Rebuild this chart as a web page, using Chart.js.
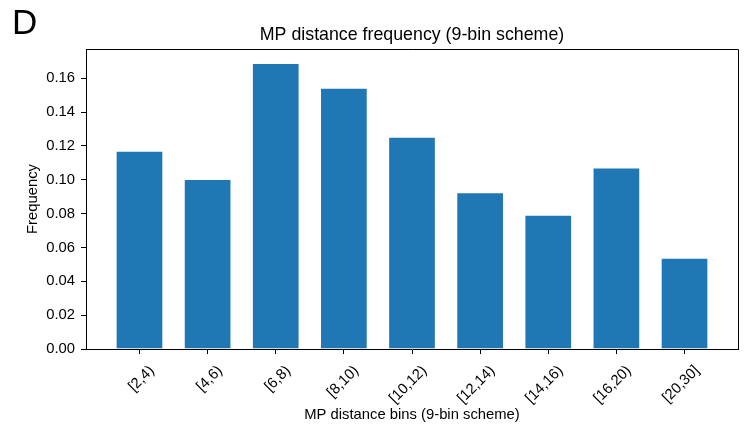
<!DOCTYPE html>
<html>
<head>
<meta charset="utf-8">
<script src="https://cdn.jsdelivr.net/npm/chart.js@4.4.0/dist/chart.umd.min.js"></script>
<style>
  html, body { margin: 0; padding: 0; background: #fff; }
  #wrap { width: 749px; height: 430px; }
</style>
</head>
<body>
<div id="wrap"><canvas id="chart"></canvas></div>
<script>
// dati
var bins = ['[2,4)', '[4,6)', '[6,8)', '[8,10)', '[10,12)', '[12,14)', '[14,16)', '[16,20)', '[20,30]'];
var freq = [0.1171, 0.1005, 0.1690, 0.1544, 0.1255, 0.0927, 0.0793, 0.1072, 0.0539];
var yTicks = [0, 0.02, 0.04, 0.06, 0.08, 0.10, 0.12, 0.14, 0.16];

var FONT = "'Liberation Sans', Arial, sans-serif";

// cornice, titolo e lettera del pannello
var extras = {
    id: 'extras',
    afterDraw: function(chart) {
        var ctx = chart.ctx;
        var a = chart.chartArea;
        ctx.save();
        ctx.strokeStyle = '#000';
        ctx.lineWidth = 1;
        ctx.beginPath();
        ctx.moveTo(a.left, a.top + 0.5);
        ctx.lineTo(a.right + 0.5, a.top + 0.5);
        ctx.lineTo(a.right + 0.5, a.bottom);
        ctx.stroke();

        ctx.fillStyle = '#000';
        ctx.textAlign = 'center';
        ctx.textBaseline = 'middle';
        ctx.font = '17.8px ' + FONT;
        ctx.fillText('MP distance frequency (9-bin scheme)', (a.left + a.right) / 2, 35.5);

        ctx.textAlign = 'left';
        ctx.textBaseline = 'alphabetic';
        ctx.font = '35px ' + FONT;
        ctx.fillText('D', 12, 34);
        ctx.restore();
    }
};

var points = [];
for (var i = 0; i < freq.length; i++) {
    points.push({ x: i, y: freq[i] });
}

new Chart(document.getElementById('chart'), {
    type: 'bar',
    data: {
        datasets: [{
            data: points,
            backgroundColor: '#1f77b4',
            borderColor: 'rgba(255,255,255,0.45)',
            borderWidth: 1,
            barPercentage: 0.7,
            categoryPercentage: 1.0
        }]
    },
    options: {
        responsive: true,
        maintainAspectRatio: false,
        animation: false,
        layout: { padding: { top: 49, right: 11, left: 0, bottom: 0 } },
        plugins: {
            legend: { display: false },
            tooltip: { enabled: false }
        },
        scales: {
            x: {
                type: 'linear',
                min: -0.785,
                max: 8.785,
                offset: false,
                afterFit: function(s) { s.height = 81; },
                afterBuildTicks: function(s) {
                    s.ticks = bins.map(function(_, i) { return { value: i }; });
                },
                grid: { display: true, offset: false, drawOnChartArea: false, drawTicks: true, tickLength: 5, color: '#000' },
                border: { display: true, color: '#000', width: 1 },
                ticks: {
                    autoSkip: false,
                    minRotation: 45,
                    maxRotation: 45,
                    labelOffset: 12.5,
                    padding: 8,
                    color: '#000',
                    font: { family: FONT, size: 14.8 },
                    callback: function(v) { return bins[v]; }
                },
                title: {
                    display: true,
                    text: 'MP distance bins (9-bin scheme)',
                    color: '#000',
                    font: { family: FONT, size: 14.8 },
                    padding: { top: 0, bottom: 6 }
                }
            },
            y: {
                min: 0,
                max: 0.1773,
                afterFit: function(s) { s.width = 86; },
                afterBuildTicks: function(s) {
                    s.ticks = yTicks.map(function(v) { return { value: v }; });
                },
                grid: { display: true, drawOnChartArea: false, drawTicks: true, tickLength: 5, color: '#000' },
                border: { display: true, color: '#000', width: 1 },
                ticks: {
                    padding: 6,
                    color: '#000',
                    font: { family: FONT, size: 14.8 },
                    callback: function(v) { return v.toFixed(2); }
                },
                title: {
                    display: true,
                    text: 'Frequency',
                    color: '#000',
                    font: { family: FONT, size: 14.8 },
                    padding: { top: 24, bottom: 0 }
                }
            }
        }
    },
    plugins: [extras]
});
</script>
</body>
</html>
